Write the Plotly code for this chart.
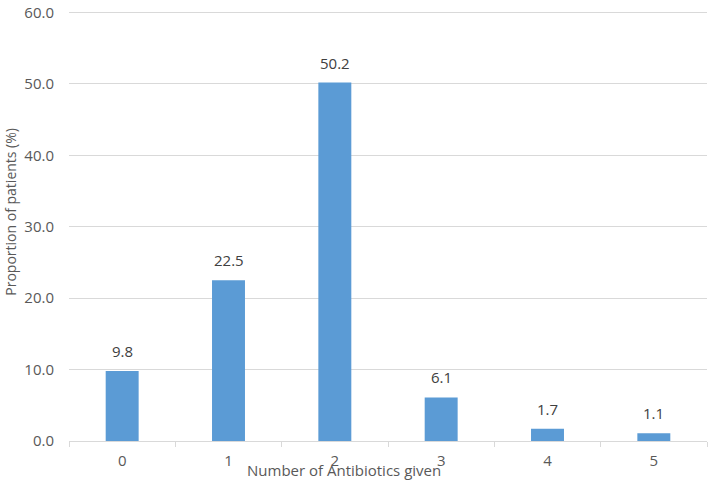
import plotly.graph_objects as go

categories = ['0', '1', '2', '3', '4', '5']
proportions = [9.8, 22.5, 50.2, 6.1, 1.7, 1.1]

bar_color = '#5B9BD5'
text_color = '#595959'

fig = go.Figure()
fig.add_trace(go.Bar(x=categories, y=proportions, marker=dict(color=bar_color, line=dict(width=0)),
                     width=0.31, hoverinfo='x+y'))

# value labels above the bars
for cat, val in zip(categories, proportions):
    fig.add_annotation(x=cat, y=val, text='{:.1f}'.format(val), showarrow=False,
                       yanchor='bottom', yshift=8, font=dict(size=15, color='#404040'))

# axis titles placed by hand (x title sits over the tick labels in the original)
fig.add_annotation(text='Number of Antibiotics given', xref='paper', yref='paper', x=0.431, y=-0.067,
                   xanchor='center', yanchor='middle', showarrow=False,
                   font=dict(size=15, color=text_color))
fig.add_annotation(text='Proportion of patients (%)', xref='paper', yref='paper', x=-0.093, y=0.53,
                   xanchor='center', yanchor='middle', textangle=-90, showarrow=False,
                   font=dict(size=14, color=text_color))

fig.update_layout(
    width=709, height=483,
    margin=dict(l=69, r=2, t=7, b=42),
    paper_bgcolor='white', plot_bgcolor='white',
    font=dict(family='Open Sans, sans-serif', size=14, color=text_color),
    showlegend=False,
    bargap=0.69,
)
fig.update_xaxes(type='category', range=[-0.5, 5.5], tickson='boundaries', ticks='outside',
                 ticklen=5, tickcolor='#D9D9D9', showline=True, linecolor='#D9D9D9', linewidth=1,
                 showgrid=False, ticklabelstandoff=6, tickfont=dict(size=15, color=text_color))
fig.update_yaxes(range=[0, 60.5], tickvals=[0, 10, 20, 30, 40, 50, 60], tickformat='.1f',
                 showgrid=True, gridcolor='#D9D9D9', gridwidth=1, zeroline=False, showline=False,
                 ticklabelstandoff=14, ticklabeloverflow='allow',
                 tickfont=dict(size=15, color=text_color))

fig.write_html("out.html", post_script="document.body.style.margin='0';",
               config={'displayModeBar': False})
